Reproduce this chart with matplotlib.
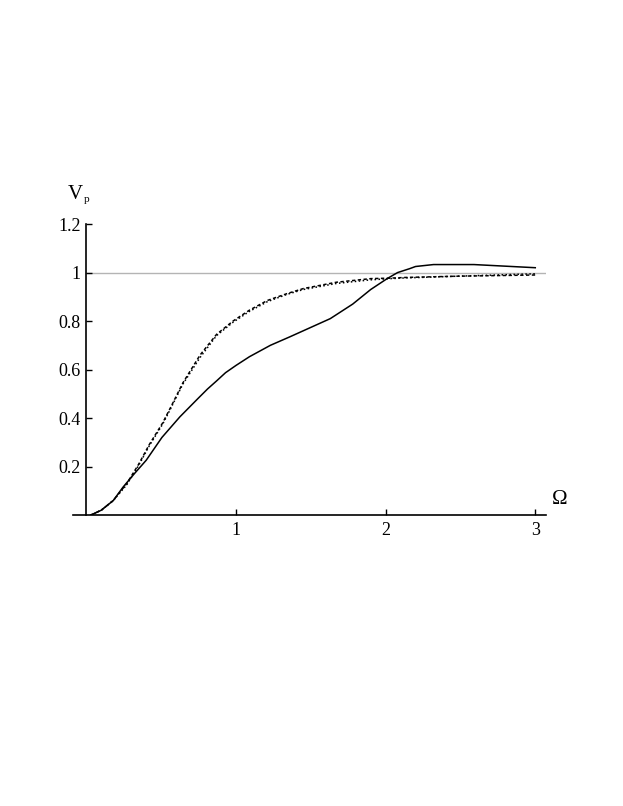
import matplotlib
matplotlib.use("Agg")
import matplotlib.pyplot as plt

plt.rcParams['font.family'] = ['Liberation Serif', 'DejaVu Serif']

# solid curve
omega_solid = [0.03, 0.10, 0.18, 0.245, 0.32, 0.40, 0.505, 0.625, 0.745, 0.81, 0.87, 0.93, 1.0, 1.09,
               1.23, 1.36, 1.45, 1.63, 1.78, 1.90, 2.01, 2.08, 2.16, 2.20, 2.32, 2.59, 3.0]
vp_solid = [0.0, 0.02, 0.06, 0.115, 0.17, 0.226, 0.32, 0.405, 0.48, 0.52, 0.553, 0.587, 0.617, 0.653,
            0.70, 0.735, 0.76, 0.81, 0.87, 0.93, 0.975, 1.0, 1.016, 1.025, 1.033, 1.033, 1.02]

# dashed curve
omega_dash = [0.03, 0.10, 0.18, 0.27, 0.35, 0.42, 0.51, 0.56, 0.645, 0.76, 0.87, 0.98, 1.09,
              1.21, 1.34, 1.45, 1.67, 1.90, 2.03, 2.14, 2.48, 3.0]
vp_dash = [0.0, 0.02, 0.06, 0.13, 0.21, 0.29, 0.38, 0.44, 0.545, 0.66, 0.745, 0.80, 0.845,
           0.885, 0.913, 0.934, 0.96, 0.975, 0.977, 0.98, 0.985, 0.99]

# dotted curve (almost on top of the dashed one)
omega_dot = [0.03, 0.10, 0.18, 0.27, 0.35, 0.42, 0.51, 0.56, 0.645, 0.76, 0.87, 0.98, 1.09,
             1.21, 1.34, 1.45, 1.67, 1.90, 2.03, 2.14, 2.48, 3.0]
vp_dot = [0.0, 0.02, 0.06, 0.125, 0.205, 0.285, 0.375, 0.435, 0.54, 0.65, 0.74, 0.795, 0.84,
          0.88, 0.91, 0.93, 0.955, 0.97, 0.975, 0.978, 0.985, 0.995]

xticks = [1, 2, 3]
yticks = [0.2, 0.4, 0.6, 0.8, 1.0, 1.2]
ytick_labels = ['0.2', '0.4', '0.6', '0.8', '1', '1.2']

fig = plt.figure(figsize=(6.23, 8.06), dpi=100)
ax = fig.add_axes([0.117, 0.361, 0.759, 0.361])

ax.axhline(1.0, xmin=(0 + 0.09) / 3.16, xmax=1.0, color='#b4b4b4', linewidth=1.0, zorder=1)
ax.plot(omega_solid, vp_solid, color='black', linewidth=1.1, zorder=3)
ax.plot(omega_dash, vp_dash, color='black', linewidth=1.1, linestyle=(0, (2.2, 1.6)), zorder=2)
ax.plot(omega_dot, vp_dot, color='black', linewidth=1.1, linestyle=(0, (1.0, 1.6)), zorder=2)

ax.set_xlim(-0.09, 3.07)
ax.set_ylim(0, 1.2)
ax.spines['top'].set_visible(False)
ax.spines['right'].set_visible(False)
ax.spines['left'].set_position(('data', 0))
ax.spines['left'].set_bounds(0, 1.2)
ax.spines['left'].set_linewidth(1.2)
ax.spines['bottom'].set_linewidth(1.2)

ax.set_xticks(xticks)
ax.set_xticklabels([str(t) for t in xticks])
ax.set_yticks(yticks)
ax.set_yticklabels(ytick_labels)
ax.tick_params(axis='both', direction='in', length=4, width=1, labelsize=13)
ax.tick_params(axis='x', pad=5)
ax.tick_params(axis='y', pad=4)

ax.text(-0.02, 1.32, 'V', fontsize=15, ha='right', va='center')
ax.text(-0.015, 1.30, 'p', fontsize=8, ha='left', va='center')
ax.text(3.11, 0.065, 'Ω', fontsize=15, ha='left', va='center')

fig.savefig('out.png', dpi=100)
